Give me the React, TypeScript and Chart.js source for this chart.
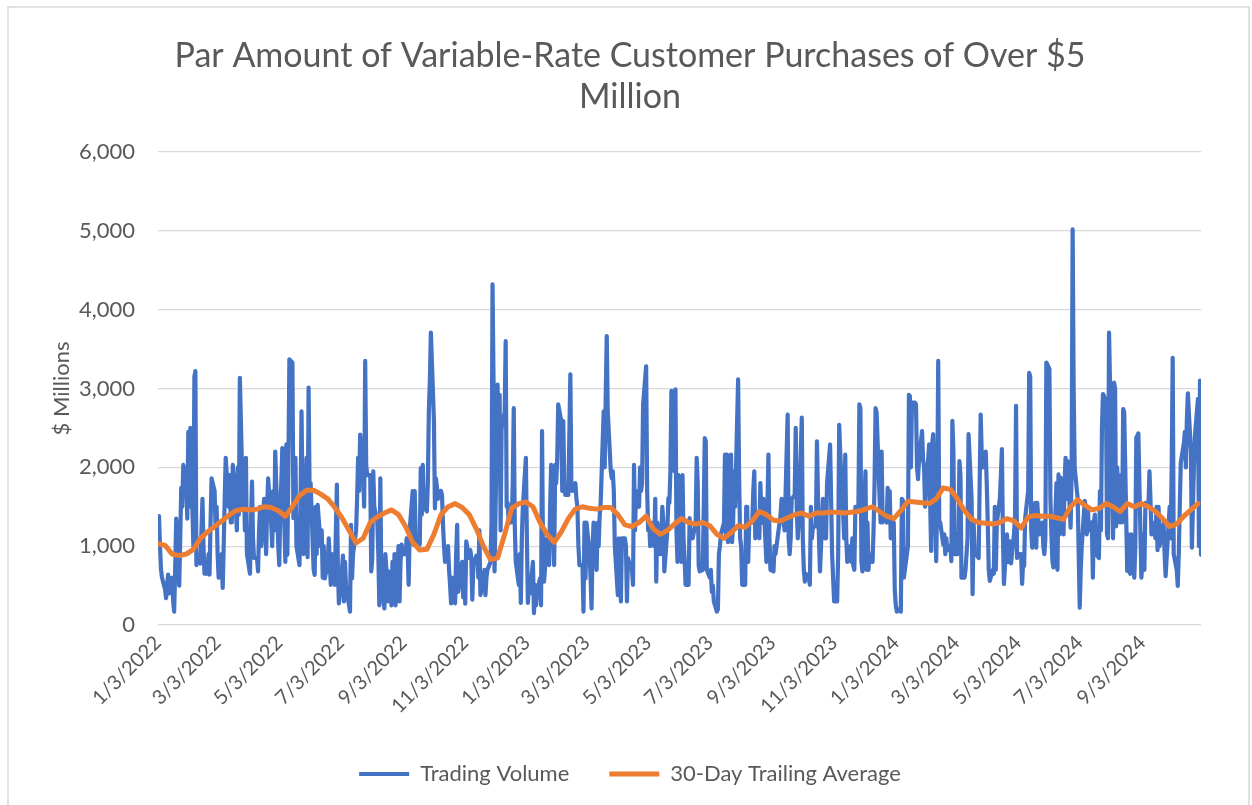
import React, { useEffect, useRef } from 'react';
import { Chart, registerables } from 'chart.js';

Chart.register(...registerables);

const titleLines = ['Par Amount of Variable-Rate Customer Purchases of Over $5', 'Million'];
const yAxisTitle = '$ Millions';
const seriesNames = ['Trading Volume', '30-Day Trailing Average'];
const firstDate = '1/3/2022';
const lastDate = '10/31/2024';
const tickLabels = [
  '1/3/2022', '3/3/2022', '5/3/2022', '7/3/2022', '9/3/2022', '11/3/2022',
  '1/3/2023', '3/3/2023', '5/3/2023', '7/3/2023', '9/3/2023', '11/3/2023',
  '1/3/2024', '3/3/2024', '5/3/2024', '7/3/2024', '9/3/2024',
];
const yTicks = [0, 1000, 2000, 3000, 4000, 5000, 6000];

// daily trading volume ($ millions), one value per weekday from 1/3/2022 (one row per week)
const tradingVolume = [
  1200, 1380, 1000, 700, 600,
  450, 340, 500, 640, 400,
  600, 300, 170, 700, 1350,
  500, 1100, 1740, 1500, 2030,
  1800, 1350, 2450, 1500, 2500,
  1000, 3150, 3220, 760, 900,
  780, 1200, 1600, 1000, 650,
  650, 900, 640, 1300, 1860,
  1700, 1230, 1500, 900, 600,
  900, 470, 1000, 1600, 2120,
  1500, 1900, 1300, 1300, 2030,
  1500, 1200, 2000, 1400, 3135,
  1500, 1800, 1200, 2120, 900,
  650, 1300, 1820, 1100, 850,
  850, 680, 1200, 1500, 1000,
  1600, 1200, 900, 1500, 1860,
  1300, 1000, 1700, 1200, 2200,
  1000, 760, 1500, 1800, 2245,
  800, 2290, 890, 2000, 3370,
  3330, 1355, 1800, 2120, 1000,
  760, 1500, 2710, 1600, 900,
  2120, 860, 3010, 1700, 1800,
  700, 635, 1500, 900, 1525,
  1000, 1200, 600, 1000, 590,
  780, 1100, 760, 510, 900,
  510, 1200, 1780, 700, 275,
  700, 880, 300, 800, 500,
  250, 170, 1270, 590, 900,
  1200, 1600, 2120, 1700, 2415,
  1900, 1500, 3350, 2030, 1900,
  1900, 680, 840, 1950, 1500,
  1300, 900, 250, 1860, 550,
  210, 900, 700, 300, 680,
  250, 800, 300, 900, 250,
  1000, 300, 800, 1020, 900,
  900, 1100, 975, 510, 1200,
  1700, 1020, 1700, 1100, 1020,
  1020, 1990, 1400, 2030, 1500,
  1440, 1800, 2710, 3100, 3710,
  2600, 1480, 1860, 1750, 1600,
  1700, 1650, 1270, 1000, 800,
  1000, 700, 510, 275, 600,
  275, 900, 1270, 420, 500,
  800, 350, 700, 270, 1060,
  850, 950, 850, 320, 750,
  880, 850, 600, 1200, 380,
  550, 700, 380, 600, 700,
  800, 1300, 4320, 3100, 680,
  3050, 2000, 2920, 1200, 2500,
  2700, 3600, 1500, 1550, 1300,
  1300, 1800, 2750, 1270, 800,
  510, 900, 280, 1100, 1500,
  2120, 1100, 280, 510, 400,
  800, 150, 510, 250, 420,
  590, 250, 2460, 800, 550,
  1100, 900, 760, 1500, 2030,
  760, 2030, 1800, 2100, 2800,
  2585, 1700, 2585, 1800, 1650,
  1650, 2400, 3180, 1800, 1700,
  1800, 1600, 1500, 1000, 760,
  760, 170, 1300, 590, 1300,
  900, 600, 210, 1000, 1300,
  700, 1300, 1000, 1380, 1550,
  2710, 2000, 2900, 3665, 2710,
  1950, 1860, 1950, 1700, 1000,
  380, 1100, 900, 300, 1100,
  1100, 1000, 300, 850, 800,
  700, 510, 2030, 1200, 1700,
  1500, 2000, 1700, 1800, 2800,
  3280, 1700, 1200, 1300, 1000,
  1300, 1000, 1600, 550, 1300,
  900, 1100, 1500, 1300, 680,
  1200, 1610, 1550, 1950, 2970,
  1950, 2990, 1200, 800, 1900,
  800, 1900, 1100, 850, 510,
  510, 1355, 1100, 1200, 1100,
  1300, 2120, 1800, 750, 680,
  700, 1500, 2370, 2330, 700,
  600, 700, 420, 500, 300,
  170, 200, 900, 1000, 1150,
  1300, 2160, 1100, 2160, 1050,
  2160, 1050, 1250, 1950, 1500,
  3115, 1860, 1100, 1000, 510,
  510, 1500, 1500, 800, 1300,
  1300, 1700, 1950, 1100, 1400,
  1100, 1800, 1400, 1300, 1600,
  800, 1500, 2160, 1100, 700,
  680, 1000, 900, 1000, 1100,
  1400, 1600, 1500, 1300, 1200,
  2670, 1100, 900, 1100, 1600,
  1650, 2500, 1500, 1100, 1300,
  2630, 1100, 700, 550, 650,
  600, 510, 1500, 1100, 1250,
  1250, 2330, 1650, 1100, 680,
  1600, 1450, 1100, 1100, 1800,
  2290, 1600, 900, 600, 300,
  300, 900, 2540, 2200, 1900,
  1100, 2160, 1100, 800, 1000,
  800, 1100, 750, 700, 1500,
  1500, 2800, 2750, 800, 680,
  1950, 700, 1300, 700, 900,
  800, 1200, 1800, 2750, 2700,
  1600, 1300, 2200, 1300, 1400,
  1300, 1740, 1600, 1700, 1100,
  1300, 450, 250, 170, 200,
  170, 1600, 1580, 600, 700,
  1000, 2920, 2900, 2000, 2820,
  2820, 2800, 2000, 1850, 2100,
  2460, 2100, 2000, 1500, 1700,
  2290, 1575, 940, 2290, 2420,
  810, 1600, 3350, 1320, 1300,
  1020, 1150, 900, 1100, 950,
  1000, 810, 2590, 2200, 900,
  900, 1200, 2080, 1900, 600,
  600, 700, 900, 1100, 2420,
  1600, 390, 1300, 950, 900,
  850, 1800, 2670, 2200, 2000,
  2200, 1800, 1300, 700, 560,
  700, 650, 1500, 700, 1300,
  1600, 1900, 2230, 1150, 520,
  1150, 800, 800, 1060, 780,
  1150, 1400, 2780, 850, 900,
  900, 520, 800, 750, 1350,
  1700, 3200, 3150, 1200, 980,
  1550, 980, 1550, 1350, 1150,
  1300, 1000, 900, 1100, 3330,
  3250, 1600, 1150, 810, 730,
  1800, 700, 1910, 1150, 1870,
  1150, 1800, 2120, 1600, 2080,
  1235, 1950, 5020, 3000, 2000,
  1600, 900, 220, 700, 1000,
  1575, 1500, 1150, 1500, 1200,
  1300, 600, 1300, 1400, 900,
  850, 1700, 1200, 2500, 2930,
  2850, 1150, 1100, 3710, 3050,
  1100, 3075, 3000, 1250, 2000,
  1300, 1900, 1300, 2740, 2700,
  685, 1150, 685, 650, 1150,
  600, 1000, 2380, 2400, 2430,
  600, 800, 1150, 700, 1550,
  1500, 1950, 1600, 1150, 1300,
  1100, 1500, 950, 1500, 1000,
  1200, 1300, 900, 620, 850,
  1500, 1100, 2000, 3390, 900,
  700, 495, 900, 1500, 2060,
  2300, 2450, 2000, 2600, 2940,
  2200, 980, 1500, 2000, 2400,
  2870, 1000, 3100, 890,
];

// 30-day trailing average ($ millions), read once per week (Mondays from 1/3/2022)
const trailingAverage = [
  1030, 1010, 900, 880, 900, 960, 1100, 1180, 1250, 1320,
  1390, 1450, 1470, 1460, 1470, 1500, 1490, 1450, 1380, 1500,
  1640, 1710, 1710, 1660, 1600, 1490, 1360, 1200, 1040, 1100,
  1300, 1370, 1420, 1460, 1400, 1250, 1050, 950, 960, 1150,
  1400, 1500, 1540, 1490, 1400, 1220, 1000, 830, 850, 1150,
  1480, 1540, 1560, 1500, 1300, 1150, 1050, 1180, 1350, 1470,
  1500, 1480, 1470, 1490, 1490, 1400, 1270, 1250, 1300, 1380,
  1220, 1150, 1200, 1280, 1350, 1300, 1280, 1300, 1260, 1150,
  1100, 1170, 1260, 1240, 1320, 1440, 1400, 1330, 1320, 1360,
  1400, 1420, 1380, 1420, 1420, 1430, 1430, 1420, 1430, 1440,
  1470, 1500, 1440, 1380, 1350, 1450, 1570, 1560, 1550, 1540,
  1600, 1740, 1720, 1600, 1450, 1340, 1300, 1290, 1280, 1300,
  1350, 1320, 1230, 1370, 1390, 1380, 1380, 1360, 1340, 1500,
  1590, 1520, 1460, 1480, 1540, 1500, 1440, 1540, 1500, 1540,
  1500, 1440, 1350, 1250, 1280, 1380, 1460, 1540,
];

const DAY_MS = 86400000;
function parseDate(s: string): number {
  const [m, d, y] = s.split('/').map(Number);
  return Date.UTC(y, m - 1, d);
}
const START = parseDate(firstDate);
function dayOf(s: string): number {
  return Math.round((parseDate(s) - START) / DAY_MS);
}
function labelOf(day: number): string {
  const dt = new Date(START + day * DAY_MS);
  return `${dt.getUTCMonth() + 1}/${dt.getUTCDate()}/${dt.getUTCFullYear()}`;
}

// weekday (trading-day) positions, starting on Monday 1/3/2022
const volumeDays: number[] = [];
for (let d = 0; volumeDays.length < tradingVolume.length; d++) {
  if (d % 7 < 5) volumeDays.push(d);
}
const averageDays = trailingAverage.map((_, i) => i * 7);
const tickDays = tickLabels.map(dayOf);

const FONT = 'Lato, "Open Sans", sans-serif';
const TEXT = '#595959';

const borderPlugin = {
  id: 'frame',
  afterDraw(chart: any) {
    const ctx = chart.ctx;
    ctx.save();
    ctx.strokeStyle = '#d9d9d9';
    ctx.lineWidth = 1.5;
    ctx.strokeRect(8, 7, 1241, 830);
    ctx.restore();
  },
};

export default function App() {
  const ref = useRef<HTMLCanvasElement | null>(null);
  useEffect(() => {
    if (!ref.current) return;
    const chart = new Chart(ref.current, {
      type: 'line',
      data: {
        datasets: [
          {
            label: seriesNames[0],
            data: volumeDays.map((x, i) => ({ x, y: tradingVolume[i] })),
            borderColor: '#4472C4',
            backgroundColor: '#4472C4',
            borderWidth: 4.2,
            pointRadius: 0,
            tension: 0,
            borderJoinStyle: 'round',
            borderCapStyle: 'round',
            order: 2,
          },
          {
            label: seriesNames[1],
            data: averageDays.map((x, i) => ({ x, y: trailingAverage[i] })),
            borderColor: '#ED7D31',
            backgroundColor: '#ED7D31',
            borderWidth: 5,
            pointRadius: 0,
            tension: 0,
            borderJoinStyle: 'round',
            borderCapStyle: 'round',
            order: 1,
          },
        ],
      },
      options: {
        responsive: false,
        animation: false,
        events: [],
        layout: { padding: { left: 59, right: 51, top: 0, bottom: 10 } },
        plugins: {
          title: {
            display: true,
            text: titleLines,
            color: TEXT,
            font: { family: FONT, size: 34, weight: 'normal', lineHeight: 41 / 34 },
            padding: { top: 36, bottom: 34 },
          },
          legend: {
            position: 'bottom',
            labels: {
              usePointStyle: true,
              pointStyle: 'line',
              pointStyleWidth: 50,
              color: TEXT,
              font: { family: FONT, size: 22 },
              padding: 40,
              sort: (a: any, b: any) => a.datasetIndex - b.datasetIndex,
            },
          },
          tooltip: { enabled: false },
        },
        scales: {
          x: {
            type: 'linear',
            min: 0,
            max: dayOf(lastDate),
            afterBuildTicks: (scale: any) => {
              scale.ticks = tickDays.map((value) => ({ value }));
            },
            afterFit: (scale: any) => {
              scale.height = 98;
            },
            ticks: {
              autoSkip: false,
              maxRotation: 45,
              minRotation: 45,
              padding: 6,
              color: TEXT,
              font: { family: FONT, size: 20 },
              callback: (v: any) => labelOf(Number(v)),
            },
            grid: { display: false, drawTicks: false },
            border: { display: false },
          },
          y: {
            min: 0,
            max: 6000,
            afterBuildTicks: (scale: any) => {
              scale.ticks = yTicks.map((value) => ({ value }));
            },
            afterFit: (scale: any) => {
              scale.width = 99;
            },
            ticks: {
              padding: 23,
              color: TEXT,
              font: { family: FONT, size: 22 },
              callback: (v: any) => Number(v).toLocaleString('en-US'),
            },
            grid: { color: '#d9d9d9', lineWidth: 1.3, drawTicks: false },
            border: { display: false },
            title: {
              display: true,
              text: yAxisTitle,
              color: TEXT,
              font: { family: FONT, size: 22 },
              padding: { top: -10, bottom: 0 },
            },
          },
        },
      },
      plugins: [borderPlugin],
    } as any);
    return () => chart.destroy();
  }, []);

  return (
    <div style={{ position: 'absolute', left: 0, top: 0, width: 1252, height: 805, background: '#ffffff' }}>
      <canvas ref={ref} width={1252} height={805} style={{ display: 'block', width: 1252, height: 805 }} />
    </div>
  );
}
